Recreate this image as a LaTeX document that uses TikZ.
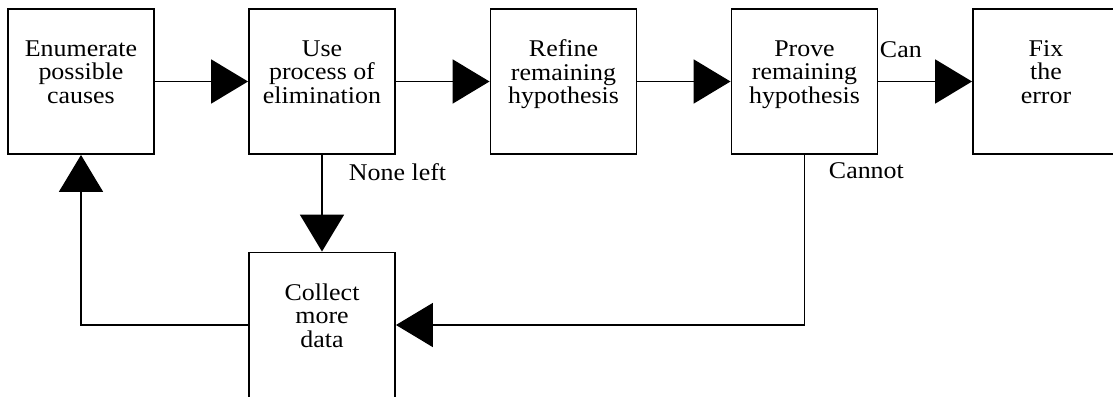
\documentclass[tikz,border=0pt]{standalone}
\usepackage{fontspec}
\setmainfont[FakeStretch=1.08]{Liberation Serif}
\usetikzlibrary{arrows.meta}

\begin{document}
\begin{tikzpicture}[x=1pt, y=-1pt, line width=1.9pt, -{Triangle[length=37pt,width=44pt]},
	stage/.style={draw, rectangle, minimum width=146pt, minimum height=145pt, align=center, text depth=19pt, font=\fontsize{24}{23.5}\selectfont},
	lbl/.style={anchor=base west, inner sep=0pt, font=\fontsize{24}{23.5}\selectfont}]
	\clip (0,0) rectangle (1113,396);
	\node[stage] (enum) at (81,81.5) {Enumerate\\possible\\causes};
	\node[stage] (elim) at (322,81.5) {Use\\process of\\elimination};
	\node[stage] (refine) at (563.5,81.5) {Refine\\remaining\\hypothesis};
	\node[stage] (prove) at (804.5,81.5) {Prove\\remaining\\hypothesis};
	\node[stage] (fix) at (1046,81.5) {Fix\\the\\error};
	\node[stage] (collect) at (322,325) {Collect\\more\\data};
	\draw (enum) -- (elim);
	\draw (elim) -- (refine);
	\draw (refine) -- (prove);
	\draw (prove) -- (fix);
	\draw (elim) -- (collect);
	\draw (prove.south) |- (collect.east);
	\draw (collect.west) -| (enum.south);
	\node[lbl] (can) at (879,58) {Can};
	\node[lbl] (noneleft) at (348,180) {None left};
	\node[lbl] (cannot) at (828,178) {Cannot};
\end{tikzpicture}
\end{document}
